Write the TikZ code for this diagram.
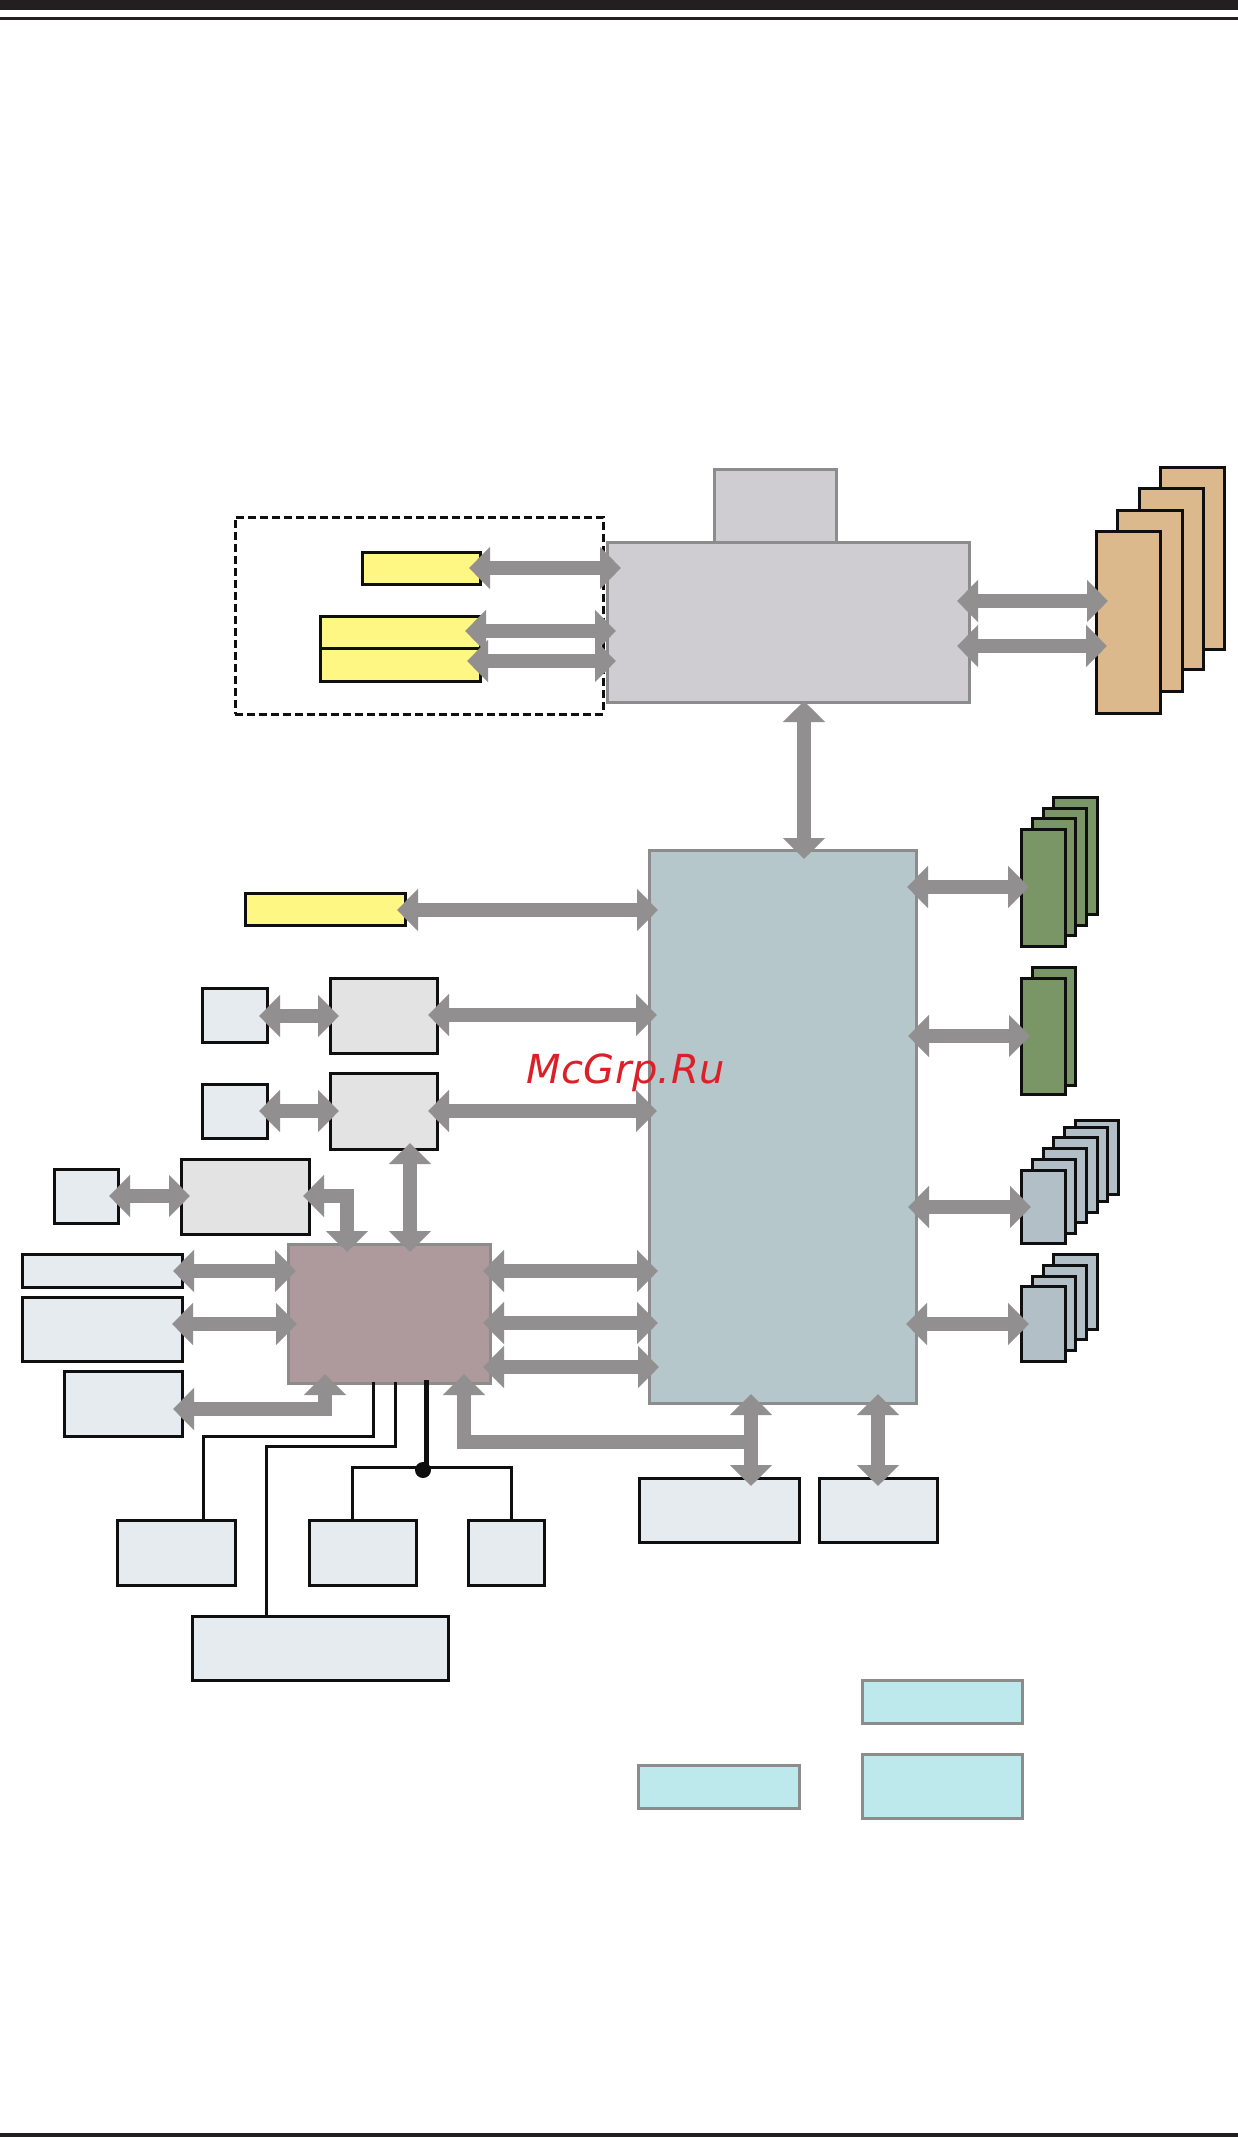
\documentclass[tikz,border=0pt]{standalone}
\usepackage{fontspec}
\usetikzlibrary{arrows.meta}
\newfontfamily\wmfont[LetterSpace=1.2]{DejaVu Sans}
\definecolor{rulec}{HTML}{231F20}
\definecolor{inkc}{HTML}{0F0F0F}
\definecolor{arrowc}{HTML}{918F90}
\definecolor{edgec}{HTML}{8C8C8C}
\definecolor{yellowc}{HTML}{FFF784}
\definecolor{hubc}{HTML}{CFCDD2}
\definecolor{mainc}{HTML}{B6C7CB}
\definecolor{brownc}{HTML}{AE9A9C}
\definecolor{paleblue}{HTML}{E6EBEF}
\definecolor{paleg}{HTML}{E3E3E3}
\definecolor{greenc}{HTML}{7A9667}
\definecolor{slatec}{HTML}{B3BFC7}
\definecolor{tanc}{HTML}{DBB98C}
\definecolor{cyanc}{HTML}{BEE9EC}
\definecolor{wmred}{HTML}{DC2028}
\newcommand{\putbox}[6]{\node[#1,minimum width={#4-#2},minimum height={#5-#3}] (#6) at ({(#2+#4)/2},{(#3+#5)/2}) {};}
\tikzset{
  basebox/.style={rectangle,inner sep=0pt,outer sep=0pt,draw=inkc,line width=3pt},
  yellowbox/.style={basebox,fill=yellowc},
  lightbox/.style={basebox,fill=paleblue},
  greybox/.style={basebox,fill=paleg},
  greenbox/.style={basebox,fill=greenc},
  slatebox/.style={basebox,fill=slatec},
  tanbox/.style={basebox,fill=tanc},
  chipbox/.style={basebox,draw=edgec},
  cyanbox/.style={basebox,draw=edgec,fill=cyanc},
  dashbox/.style={basebox,dash pattern=on 8pt off 4pt},
  bus/.style={draw=arrowc,line width=14pt,{Triangle[width=41pt,length=21pt]}-{Triangle[width=41pt,length=21pt]}},
  busone/.style={draw=arrowc,line width=14pt,-{Triangle[width=41pt,length=21pt]}},
  wire/.style={draw=inkc,line width=3pt},
  thickwire/.style={draw=inkc,line width=5pt},
  junction/.style={circle,fill=inkc,inner sep=0pt,outer sep=0pt,minimum size=16pt}
}
\begin{document}
\begin{tikzpicture}[x=1pt,y=-1pt]
\useasboundingbox (0,0) rectangle (1238,2137);
\fill[white] (0,0) rectangle (1238,2137);
% page rules
\fill[rulec] (0,0) rectangle (1238,10);
\fill[rulec] (0,17) rectangle (1238,20);
\fill[rulec] (0,2133) rectangle (1238,2137);
% top group
\putbox{dashbox}{235}{517}{603}{714}{dash}
\putbox{yellowbox}{362}{552}{480}{584}{ya}
\putbox{yellowbox}{320}{616}{480}{648}{yb}
\putbox{yellowbox}{320}{648}{480}{681}{yc}
\putbox{chipbox,fill=hubc}{714}{469}{836}{542}{hubtop}
\putbox{chipbox,fill=hubc}{607}{542}{969}{702}{hub}
\putbox{tanbox}{1160}{467}{1224}{649}{tand}
\putbox{tanbox}{1139}{488}{1203}{669}{tanc3}
\putbox{tanbox}{1117}{510}{1182}{691}{tanb}
\putbox{tanbox}{1096}{531}{1160}{713}{tana}
% main chip
\putbox{chipbox,fill=mainc}{649}{850}{916}{1403}{main}
% right stacks
\putbox{greenbox}{1053}{797}{1097}{914}{gd}
\putbox{greenbox}{1043}{808}{1086}{925}{gc}
\putbox{greenbox}{1032}{818}{1075}{935}{gb}
\putbox{greenbox}{1021}{829}{1065}{946}{ga}
\putbox{greenbox}{1032}{967}{1075}{1085}{hb}
\putbox{greenbox}{1021}{978}{1065}{1094}{ha}
\putbox{slatebox}{1075}{1120}{1118}{1194}{sf}
\putbox{slatebox}{1064}{1127}{1107}{1201}{se}
\putbox{slatebox}{1053}{1137}{1097}{1212}{sd}
\putbox{slatebox}{1043}{1148}{1086}{1222}{sc}
\putbox{slatebox}{1032}{1159}{1075}{1233}{sb}
\putbox{slatebox}{1021}{1170}{1065}{1243}{sa}
\putbox{slatebox}{1053}{1254}{1097}{1329}{td}
\putbox{slatebox}{1043}{1265}{1086}{1339}{tc}
\putbox{slatebox}{1032}{1276}{1075}{1350}{tb}
\putbox{slatebox}{1021}{1286}{1065}{1361}{ta}
% left column
\putbox{yellowbox}{245}{893}{405}{925}{yd}
\putbox{lightbox}{202}{988}{267}{1042}{e}
\putbox{greybox}{330}{978}{437}{1053}{f}
\putbox{lightbox}{202}{1084}{267}{1138}{g}
\putbox{greybox}{330}{1073}{437}{1149}{h}
\putbox{lightbox}{54}{1169}{118}{1223}{i}
\putbox{greybox}{181}{1159}{309}{1234}{j}
\putbox{chipbox,fill=brownc}{288}{1244}{490}{1383}{k}
\putbox{lightbox}{22}{1254}{182}{1287}{l}
\putbox{lightbox}{22}{1297}{182}{1361}{m}
\putbox{lightbox}{64}{1371}{182}{1436}{n}
% bottom row
\putbox{lightbox}{117}{1520}{235}{1585}{o}
\putbox{lightbox}{309}{1520}{416}{1585}{p}
\putbox{lightbox}{468}{1520}{544}{1585}{q}
\putbox{lightbox}{192}{1616}{448}{1680}{r}
\putbox{lightbox}{639}{1478}{799}{1542}{s}
\putbox{lightbox}{819}{1478}{937}{1542}{t}
% legend
\putbox{cyanbox}{638}{1765}{799}{1808}{u}
\putbox{cyanbox}{862}{1680}{1022}{1723}{v}
\putbox{cyanbox}{862}{1754}{1022}{1818}{w}
% wires
\coordinate (c1) at (373,1436);
\coordinate (c2) at (395,1446);
\coordinate (c3) at (426,1467);
\draw[wire] ([shift={(-16,-1)}]k.south) -- (c1) -| ([shift={(27,0)}]o.north);
\draw[wire] ([shift={(6,-1)}]k.south) -- (c2) -| ([shift={(-53.5,0)}]r.north);
\draw[wire] ([shift={(-10.5,0)}]p.north) |- (c3) -| ([shift={(5,0)}]q.north);
\draw[thickwire] ([shift={(37,-3)}]k.south) -- (c3);
\node[junction] (dot) at (423,1470) {};
% buses
\draw[bus] ([shift={(-11,0)}]ya.east) -- ([shift={(14,-54)}]hub.west);
\draw[bus] ([shift={(-15,-1)}]yb.east) -- ([shift={(9,9)}]hub.west);
\draw[bus] ([shift={(-13,-3.5)}]yc.east) -- ([shift={(9,39)}]hub.west);
\draw[bus] ([shift={(-12,-21)}]hub.east) -- ([shift={(12,-21)}]tana.west);
\draw[bus] ([shift={(-12,24)}]hub.east) -- ([shift={(11,24)}]tana.west);
\draw[bus] ([shift={(16,-1)}]hub.south) -- ([shift={(21.5,9)}]main.north);
\draw[bus] ([shift={(-8,1)}]yd.east) -- ([shift={(9,-216.5)}]main.west);
\draw[bus] ([shift={(-8,1)}]e.east) -- ([shift={(9,0.5)}]f.west);
\draw[bus] ([shift={(-9,-0.5)}]f.east) -- ([shift={(8,-111.5)}]main.west);
\draw[bus] ([shift={(-8,0)}]g.east) -- ([shift={(9,0)}]h.west);
\draw[bus] ([shift={(-9,0)}]h.east) -- ([shift={(8,-15.5)}]main.west);
\draw[bus] ([shift={(-9,0)}]i.east) -- ([shift={(9,-0.5)}]j.west);
\draw[bus] ([shift={(-6,-0.5)}]j.east) -| ([shift={(-42,8)}]k.north);
\draw[bus] ([shift={(26.5,-6)}]h.south) -- ([shift={(21,8)}]k.north);
\draw[bus] ([shift={(-9,0.5)}]l.east) -- ([shift={(8,-42.5)}]k.west);
\draw[bus] ([shift={(-10,-5)}]m.east) -- ([shift={(9,10.5)}]k.west);
\draw[bus] ([shift={(-9,5.5)}]n.east) -| ([shift={(-64,-9)}]k.south);
\draw[bus] ([shift={(-7,-42.5)}]k.east) -- ([shift={(9,144.5)}]main.west);
\draw[bus] ([shift={(-7,9.5)}]k.east) -- ([shift={(9,196.5)}]main.west);
\draw[bus] ([shift={(-7,53.5)}]k.east) -- ([shift={(10,240.5)}]main.west);
\draw[bus] ([shift={(-9,-239.5)}]main.east) -- ([shift={(8,-0.5)}]ga.west);
\draw[bus] ([shift={(-8,-90.5)}]main.east) -- ([shift={(9,0)}]ha.west);
\draw[bus] ([shift={(-8,80.5)}]main.east) -- ([shift={(10,0.5)}]sa.west);
\draw[bus] ([shift={(-10,197.5)}]main.east) -- ([shift={(8,0.5)}]ta.west);
\draw[bus] ([shift={(32,8)}]s.north) -- ([shift={(-31.5,-9)}]main.south);
\draw[busone] ([shift={(32,-36)}]s.north) -| ([shift={(75,-9)}]k.south);
\draw[bus] ([shift={(0,8)}]t.north) -- ([shift={(95.5,-9)}]main.south);
% watermark
\node[anchor=base west,inner sep=0pt,text=wmred,font={\wmfont\itshape\fontsize{40}{48}\selectfont}] (mark) at (526,1083) {McGrp.Ru};
\end{tikzpicture}
\end{document}
